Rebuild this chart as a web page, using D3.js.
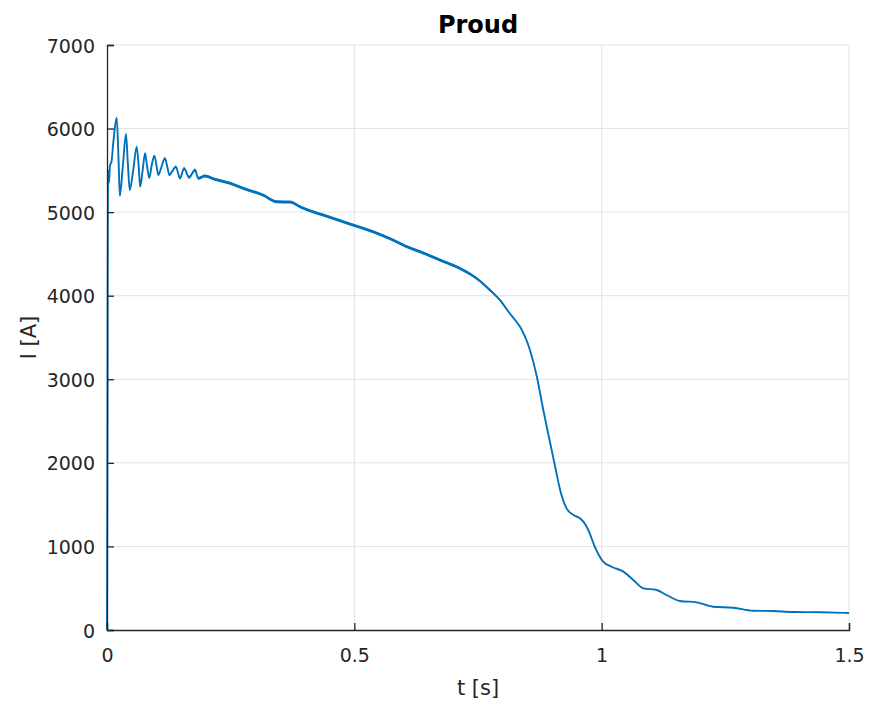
<!DOCTYPE html>
<html>
<head>
<meta charset="utf-8">
<script src="https://cdn.jsdelivr.net/npm/d3@7"></script>
<style>
  body { margin: 0; background: #ffffff; }
  text { font-family: "DejaVu Sans", sans-serif; fill: #262626; }
</style>
</head>
<body>
<div id="chart"></div>
<script>
const W = 869, H = 704;
const line_color = "#0072bd";
const axis_color = "#262626";
const grid_color = "#e3e3e3";

// t [s]
const time = [0, 0.001, 0.002, 0.004, 0.006, 0.009, 0.013, 0.0196, 0.0235, 0.026,
  0.032, 0.0384, 0.042, 0.046, 0.053, 0.060, 0.064, 0.067, 0.072, 0.077,
  0.081, 0.0856, 0.090, 0.0957, 0.100, 0.1037, 0.110, 0.117, 0.122, 0.126,
  0.133, 0.139, 0.1476, 0.1557, 0.166, 0.178, 0.1846, 0.198, 0.218, 0.249,
  0.275, 0.315, 0.343, 0.37, 0.39, 0.416, 0.437, 0.467, 0.497, 0.538,
  0.578, 0.605, 0.633, 0.673, 0.713, 0.747, 0.774, 0.794, 0.814, 0.825,
  0.835, 0.855, 0.869, 0.882, 0.896, 0.906, 0.916, 0.929, 0.943, 0.956,
  0.963, 0.973, 0.986, 1.003, 1.02, 1.044, 1.064, 1.084, 1.111, 1.131,
  1.158, 1.192, 1.225, 1.266, 1.306, 1.347, 1.387, 1.441, 1.5];

// I [A]
const current = [0, 2500, 5500, 5350, 5560, 5600, 5850, 6130, 5600, 5195,
  5550, 5935, 5600, 5265, 5500, 5783, 5550, 5305, 5500, 5704,
  5550, 5409, 5550, 5676, 5560, 5445, 5540, 5644, 5540, 5445,
  5500, 5544, 5405, 5524, 5417, 5504, 5405, 5433, 5393, 5345,
  5285, 5205, 5125, 5120, 5065, 5005, 4966, 4906, 4846, 4766,
  4667, 4590, 4527, 4427, 4328, 4208, 4068, 3949, 3790, 3709,
  3629, 3350, 3031, 2633, 2234, 1954, 1675, 1456, 1376, 1337,
  1296, 1197, 997, 817, 757, 698, 598, 499, 479, 419,
  347, 331, 279, 267, 231, 227, 215, 212, 203];

// measurement ripple half-width [A]
const ripple = [0, 0, 0, 0, 0, 4, 4, 4, 4, 4,
  4, 4, 6, 6, 6, 6, 6, 6, 6, 6,
  8, 8, 8, 8, 10, 10, 10, 12, 12, 12,
  14, 14, 16, 16, 18, 18, 18, 18, 18, 18,
  18, 18, 18, 18, 18, 18, 18, 18, 18, 18,
  18, 18, 18, 18, 18, 16, 14, 12, 10, 8,
  6, 4, 2, 0, 0, 0, 0, 0, 0, 0,
  0, 0, 0, 0, 0, 0, 0, 0, 0, 0,
  0, 0, 0, 0, 0, 0, 0, 0, 0];

const xTicks = [0, 0.5, 1, 1.5];
const yTicks = [0, 1000, 2000, 3000, 4000, 5000, 6000, 7000];

const data = time.map((t, i) => ({ t: t, I: current[i], r: ripple[i] }));

const margin = { left: 107, right: 20, top: 45, bottom: 74 };

const svg = d3.select("#chart").append("svg")
  .attr("width", W)
  .attr("height", H);

svg.append("rect").attr("width", W).attr("height", H).attr("fill", "#ffffff");

const x = d3.scaleLinear().domain([0, 1.5]).range([margin.left, W - margin.right]);
const y = d3.scaleLinear().domain([0, 7000]).range([H - margin.bottom, margin.top]);

// grid
svg.append("g")
  .selectAll("line")
  .data(xTicks.filter(d => d > 0))
  .join("line")
  .attr("x1", d => x(d)).attr("x2", d => x(d))
  .attr("y1", y(0)).attr("y2", y(7000))
  .attr("stroke", grid_color).attr("stroke-width", 1);

svg.append("g")
  .selectAll("line")
  .data(yTicks.filter(d => d > 0))
  .join("line")
  .attr("x1", x(0)).attr("x2", x(1.5))
  .attr("y1", d => y(d)).attr("y2", d => y(d))
  .attr("stroke", grid_color).attr("stroke-width", 1);

// ripple band + signal
const band = d3.area()
  .x(d => x(d.t))
  .y0(d => y(d.I - d.r))
  .y1(d => y(d.I + d.r))
  .curve(d3.curveMonotoneX);

svg.append("path")
  .datum(data)
  .attr("d", band)
  .attr("fill", line_color);

const line = d3.line()
  .x(d => x(d.t))
  .y(d => y(d.I))
  .curve(d3.curveMonotoneX);

svg.append("path")
  .datum(data)
  .attr("d", line)
  .attr("fill", "none")
  .attr("stroke", line_color)
  .attr("stroke-width", 1.9)
  .attr("stroke-linejoin", "round");

// axes
const xAxis = d3.axisBottom(x).tickValues(xTicks).tickSize(-7)
  .tickFormat(d3.format("~g"));
const yAxis = d3.axisLeft(y).tickValues(yTicks).tickSize(-7)
  .tickFormat(d3.format("d"));

const gx = svg.append("g")
  .attr("transform", `translate(0,${y(0)})`)
  .call(xAxis);
const gy = svg.append("g")
  .attr("transform", `translate(${x(0)},0)`)
  .call(yAxis);

[gx, gy].forEach(g => {
  g.select(".domain").attr("stroke", axis_color).attr("stroke-width", 1.3);
  g.selectAll(".tick line").attr("stroke", axis_color).attr("stroke-width", 1.3);
  g.selectAll(".tick text")
    .attr("font-size", "19px")
    .attr("font-family", "DejaVu Sans, sans-serif")
    .attr("fill", axis_color);
});
gx.selectAll(".tick text").attr("y", 32).attr("dy", 0);
gy.selectAll(".tick text").attr("x", -12).attr("dy", "0.37em");

// labels
svg.append("text")
  .text("Proud")
  .attr("x", (x(0) + x(1.5)) / 2)
  .attr("y", 33)
  .attr("text-anchor", "middle")
  .attr("font-family", "Liberation Sans, Arial, sans-serif")
  .attr("font-size", "24px")
  .attr("font-weight", "bold")
  .style("fill", "#000000");

svg.append("text")
  .text("t [s]")
  .attr("x", (x(0) + x(1.5)) / 2)
  .attr("y", 695)
  .attr("text-anchor", "middle")
  .attr("font-size", "21px");

svg.append("text")
  .text("I [A]")
  .attr("transform", `translate(36,${(y(0) + y(7000)) / 2}) rotate(-90)`)
  .attr("text-anchor", "middle")
  .attr("font-size", "21px");
</script>
</body>
</html>
